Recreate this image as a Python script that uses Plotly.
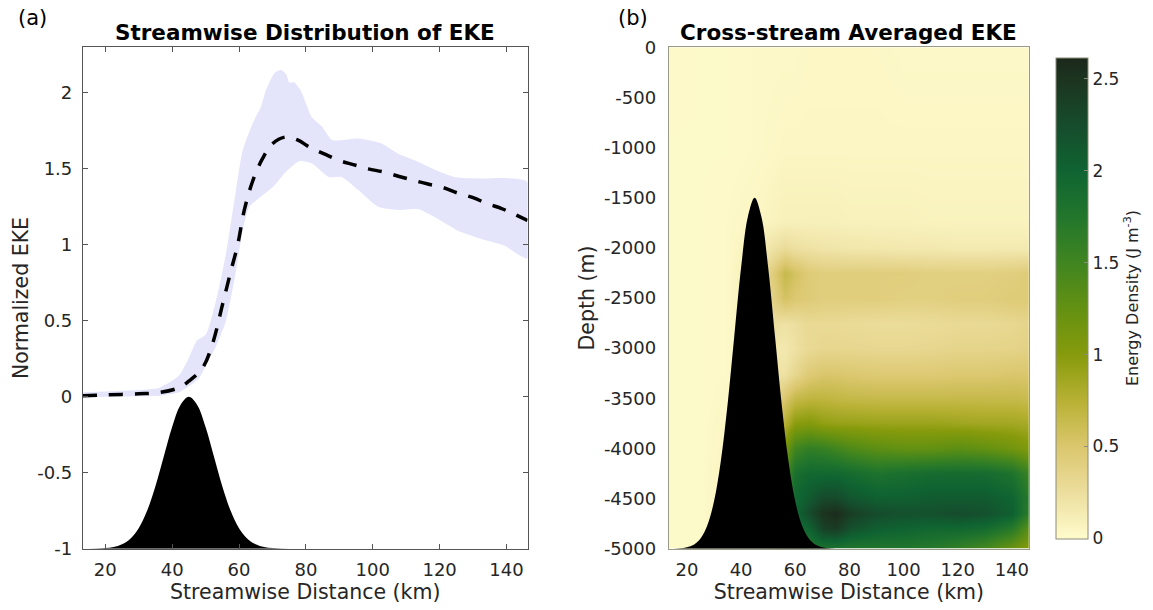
import plotly.graph_objects as go

# ---------------- data ----------------
# Panel (a): streamwise EKE (normalized), mean curve and spread envelope
eke_x = [13.3, 20, 30, 36.2, 42.1, 45.1, 49.1, 52.1, 55.1, 57.6, 59.6, 61.6, 64.1, 67.1,
         70.1, 74.0, 77.5, 81.3, 85.3, 89.7, 94.2, 98.7, 103.1, 107.9, 112.1, 116.5,
         121.0, 125.5, 130.0, 134.4, 138.4, 142.5, 146.3]
eke_mean = [0.007, 0.012, 0.02, 0.028, 0.06, 0.105, 0.19, 0.35, 0.61, 0.83, 1.0, 1.23, 1.42,
            1.57, 1.667, 1.71, 1.69, 1.64, 1.60, 1.557, 1.528, 1.50, 1.48, 1.45, 1.425, 1.40,
            1.377, 1.34, 1.31, 1.27, 1.24, 1.20, 1.16]

upper_x = [13.3, 20, 30, 36.2, 42.1, 45.1, 47.4, 50.1, 53.1, 56.1, 59.1, 61.1, 64.1, 66.6,
           68.1, 70.6, 72.6, 74.2, 75.0, 76.5, 78.0, 79.0, 81.8, 84.8, 87.8, 95.7, 102.6,
           107.6, 112.5, 119.5, 124.4, 132.3, 139.3, 146.3]
upper_y = [0.03, 0.035, 0.045, 0.06, 0.14, 0.26, 0.37, 0.41, 0.63, 0.94, 1.36, 1.62, 1.80, 1.91,
           2.02, 2.13, 2.15, 2.12, 2.07, 2.07, 2.03, 1.99, 1.84, 1.78, 1.69, 1.70, 1.667,
           1.60, 1.557, 1.486, 1.447, 1.436, 1.44, 1.414]

lower_x = [13.3, 20, 30, 36.2, 42.1, 45.1, 48.0, 50.0, 53.1, 56.1, 59.1, 61.1, 63.1, 66.1,
           70.1, 74.0, 78.0, 81.8, 86.8, 90.7, 95.7, 101.6, 107.6, 113.5, 119.5, 125.4,
           132.3, 139.3, 146.3]
lower_y = [-0.005, 0.0, 0.003, 0.007, 0.03, 0.07, 0.12, 0.20, 0.33, 0.50, 0.83, 1.095, 1.25,
           1.31, 1.38, 1.48, 1.55, 1.535, 1.447, 1.447, 1.36, 1.25, 1.23, 1.235, 1.17, 1.095,
           1.04, 0.996, 0.91]

# Seamount profile: relative height (0 = floor, 1 = summit) along the stream
topo_x = [15, 17.5, 20, 22.5, 25, 27.5, 30, 32.5, 35, 37.5, 40, 42.5, 45, 47.5, 50, 52.5,
          55, 57.5, 60, 62.5, 65, 67.5, 70, 72.5, 75]
topo_h = [0.0, 0.001, 0.004, 0.011, 0.029, 0.066, 0.135, 0.249, 0.411, 0.607, 0.801, 0.946,
          1.0, 0.946, 0.801, 0.607, 0.411, 0.249, 0.135, 0.066, 0.029, 0.011, 0.004, 0.001, 0.0]
floor_depth = -5000
summit_depth = -1500

# Panel (b): cross-stream averaged EKE (J m^-3) on a depth / distance grid
grid_x = [13.3, 25, 35, 45, 52, 56, 60, 65, 70, 75, 80, 90, 100, 110, 120, 130, 140, 146.3]
grid_z = [0, -1000, -1750, -2000, -2250, -2500, -2750, -3000, -3250, -3500, -3750, -4000,
          -4250, -4500, -4650, -4800, -5000]
energy = [
    [0.03, 0.02, 0.02, 0.03, 0.03, 0.03, 0.03, 0.04, 0.04, 0.04, 0.04, 0.04, 0.03, 0.03, 0.03, 0.03, 0.03, 0.03],
    [0.02, 0.02, 0.02, 0.03, 0.04, 0.05, 0.05, 0.05, 0.05, 0.05, 0.05, 0.05, 0.05, 0.05, 0.05, 0.05, 0.05, 0.05],
    [0.02, 0.02, 0.03, 0.05, 0.08, 0.10, 0.10, 0.10, 0.10, 0.10, 0.09, 0.09, 0.09, 0.08, 0.08, 0.08, 0.08, 0.08],
    [0.02, 0.02, 0.03, 0.10, 0.22, 0.28, 0.24, 0.22, 0.20, 0.19, 0.18, 0.17, 0.16, 0.16, 0.15, 0.15, 0.15, 0.15],
    [0.02, 0.02, 0.03, 0.15, 0.45, 0.65, 0.55, 0.45, 0.42, 0.42, 0.42, 0.42, 0.42, 0.40, 0.40, 0.40, 0.42, 0.45],
    [0.02, 0.02, 0.03, 0.15, 0.40, 0.55, 0.48, 0.45, 0.42, 0.42, 0.42, 0.42, 0.40, 0.40, 0.42, 0.42, 0.45, 0.45],
    [0.02, 0.02, 0.03, 0.12, 0.25, 0.22, 0.25, 0.30, 0.30, 0.30, 0.28, 0.27, 0.27, 0.28, 0.30, 0.30, 0.32, 0.35],
    [0.02, 0.02, 0.03, 0.10, 0.18, 0.16, 0.22, 0.30, 0.33, 0.33, 0.33, 0.32, 0.32, 0.33, 0.35, 0.35, 0.36, 0.38],
    [0.02, 0.02, 0.03, 0.10, 0.20, 0.22, 0.32, 0.45, 0.50, 0.50, 0.48, 0.46, 0.46, 0.46, 0.48, 0.48, 0.50, 0.50],
    [0.02, 0.02, 0.04, 0.15, 0.35, 0.50, 0.65, 0.70, 0.70, 0.68, 0.66, 0.65, 0.65, 0.65, 0.65, 0.65, 0.65, 0.63],
    [0.02, 0.02, 0.05, 0.20, 0.55, 0.75, 0.98, 1.02, 0.95, 0.92, 0.92, 0.90, 0.90, 0.90, 0.88, 0.86, 0.86, 0.83],
    [0.02, 0.02, 0.06, 0.30, 0.80, 1.10, 1.50, 1.62, 1.58, 1.50, 1.40, 1.30, 1.25, 1.25, 1.30, 1.25, 1.15, 1.05],
    [0.02, 0.02, 0.07, 0.35, 1.00, 1.40, 1.85, 1.95, 1.95, 1.95, 1.90, 1.80, 1.85, 1.90, 1.90, 1.90, 1.80, 1.55],
    [0.02, 0.02, 0.08, 0.40, 1.10, 1.60, 1.95, 2.10, 2.28, 2.28, 2.15, 2.05, 2.05, 2.10, 2.10, 2.10, 2.00, 1.70],
    [0.02, 0.02, 0.08, 0.40, 1.10, 1.60, 1.95, 2.25, 2.50, 2.58, 2.40, 2.25, 2.20, 2.20, 2.25, 2.20, 2.05, 1.65],
    [0.02, 0.02, 0.08, 0.40, 1.10, 1.55, 1.85, 2.00, 2.35, 2.42, 2.20, 2.05, 2.00, 1.95, 1.95, 1.90, 1.70, 1.30],
    [0.02, 0.02, 0.08, 0.35, 1.00, 1.40, 1.70, 1.75, 1.80, 1.80, 1.75, 1.75, 1.75, 1.70, 1.60, 1.45, 1.20, 1.00],
]
energy_max = 2.615

# Tick labels
x_ticks = [20, 40, 60, 80, 100, 120, 140]
x_ticktext = ["20", "40", "60", "80", "100", "120", "140"]
eke_ticks = [-1, -0.5, 0, 0.5, 1, 1.5, 2]
eke_ticktext = ["-1", "-0.5", "0", "0.5", "1", "1.5", "2"]
depth_ticks = [0, -500, -1000, -1500, -2000, -2500, -3000, -3500, -4000, -4500, -5000]
depth_ticktext = ["0", "-500", "-1000", "-1500", "-2000", "-2500", "-3000", "-3500",
                  "-4000", "-4500", "-5000"]
cbar_ticks = [0, 0.5, 1, 1.5, 2, 2.5]
cbar_ticktext = ["0", "0.5", "1", "1.5", "2", "2.5"]

# ---------------- styling ----------------
W, H = 1153, 610
FONT = "DejaVu Sans"
TXT = "#262626"
TICK_SIZE = 18
LABEL_SIZE = 20.5
TITLE_SIZE = 21.5
x_range = [13.3, 146.3]

# speed-like yellow -> olive -> green colormap
speed_scale = [
    [0.000, "rgb(255,252,205)"],
    [0.096, "rgb(236,222,158)"],
    [0.191, "rgb(219,199,110)"],
    [0.287, "rgb(184,177,52)"],
    [0.382, "rgb(135,155,12)"],
    [0.478, "rgb(100,145,18)"],
    [0.574, "rgb(64,133,32)"],
    [0.669, "rgb(34,118,44)"],
    [0.765, "rgb(15,100,50)"],
    [0.860, "rgb(22,76,44)"],
    [0.956, "rgb(28,52,32)"],
    [1.000, "rgb(27,40,27)"],
]

def px_x(p):
    return p / W

def px_y(p):
    return 1 - p / H

left_dom = [px_x(83.3), px_x(530.3)]
right_dom = [px_x(672.3), px_x(1034.3)]
y_dom = [px_y(548.7), px_y(47.3)]

fig = go.Figure()

# ---- panel (a) ----
band_x = upper_x + lower_x[::-1]
band_y = upper_y + lower_y[::-1]
fig.add_trace(go.Scatter(x=band_x, y=band_y, fill="toself", mode="lines",
                         line=dict(width=0, shape="spline", smoothing=0.6),
                         fillcolor="rgb(228,228,251)", hoverinfo="skip",
                         xaxis="x", yaxis="y", showlegend=False))
fig.add_trace(go.Scatter(x=eke_x, y=eke_mean, mode="lines",
                         line=dict(color="black", width=3.5, dash="14px,12px", shape="spline"),
                         xaxis="x", yaxis="y", showlegend=False))
topo_a = [h - 1 for h in topo_h]
fig.add_trace(go.Scatter(x=topo_x, y=topo_a, mode="lines", fill="toself",
                         line=dict(color="black", width=0, shape="spline"),
                         fillcolor="black", xaxis="x", yaxis="y", showlegend=False))

# ---- panel (b) ----
fig.add_trace(go.Heatmap(x=grid_x, y=grid_z, z=energy, zmin=0, zmax=energy_max,
                         colorscale=speed_scale, zsmooth="best",
                         xaxis="x2", yaxis="y2",
                         colorbar=dict(
                             x=px_x(1051.7), xanchor="left", xref="paper",
                             y=(y_dom[0] + y_dom[1]) / 2, yanchor="middle",
                             len=y_dom[1] - y_dom[0], lenmode="fraction",
                             thickness=31.6, thicknessmode="pixels",
                             outlinewidth=1, outlinecolor="#8c8c7a",
                             tickvals=cbar_ticks, ticktext=cbar_ticktext,
                             ticks="inside", ticklen=4, tickcolor="#8c8c7a",
                             tickfont=dict(family=FONT, size=17, color=TXT),
                             ticklabelposition="outside",
                             title=dict(text="Energy Density (J m<sup>-3</sup>)", side="right",
                                        font=dict(family=FONT, size=16, color=TXT)),
                         )))
topo_b = [floor_depth + (summit_depth - floor_depth) * h for h in topo_h]
fig.add_trace(go.Scatter(x=topo_x, y=topo_b, mode="lines", fill="toself",
                         line=dict(color="black", width=0, shape="spline"),
                         fillcolor="black", xaxis="x2", yaxis="y2", showlegend=False))

axis_common = dict(showgrid=False, zeroline=False, showline=True, linewidth=1,
                   tickfont=dict(family=FONT, size=TICK_SIZE, color=TXT))

fig.update_layout(
    width=W, height=H,
    margin=dict(l=0, r=0, t=0, b=0),
    paper_bgcolor="white", plot_bgcolor="white",
    font=dict(family=FONT, color=TXT),
    xaxis=dict(domain=left_dom, range=x_range, anchor="y", tickvals=x_ticks,
               ticktext=x_ticktext, ticks="inside", ticklen=5, tickcolor="#555",
               linecolor="#555", mirror="ticks", ticklabelstandoff=5,
               title=dict(text="Streamwise Distance (km)", standoff=5,
                          font=dict(family=FONT, size=LABEL_SIZE, color=TXT)),
               automargin=False, **axis_common),
    yaxis=dict(domain=y_dom, range=[-1, 2.3], anchor="x", tickvals=eke_ticks,
               ticktext=eke_ticktext, ticks="inside", ticklen=5, tickcolor="#555",
               linecolor="#555", mirror="ticks", ticklabelstandoff=6,
               title=dict(text="Normalized EKE", standoff=2,
                          font=dict(family=FONT, size=LABEL_SIZE, color=TXT)),
               automargin=False, **axis_common),
    xaxis2=dict(domain=right_dom, range=x_range, anchor="y2", tickvals=x_ticks,
                ticktext=x_ticktext, ticks="", linecolor="#9a9a88", mirror=True,
                ticklabelstandoff=5,
                title=dict(text="Streamwise Distance (km)", standoff=5,
                           font=dict(family=FONT, size=LABEL_SIZE, color=TXT)),
                automargin=False, **axis_common),
    yaxis2=dict(domain=y_dom, range=[-5000, 0], anchor="x2", tickvals=depth_ticks,
                ticktext=depth_ticktext, ticks="", linecolor="#9a9a88", mirror=True,
                ticklabelstandoff=8,
                title=dict(text="Depth (m)", standoff=3,
                           font=dict(family=FONT, size=LABEL_SIZE, color=TXT)),
                automargin=False, **axis_common),
    annotations=[
        dict(text="<b>Streamwise Distribution of EKE</b>", x=(left_dom[0] + left_dom[1]) / 2,
             y=px_y(33), xref="paper", yref="paper", showarrow=False,
             xanchor="center", yanchor="middle",
             font=dict(family=FONT, size=TITLE_SIZE, color="black")),
        dict(text="<b>Cross-stream Averaged EKE</b>", x=(right_dom[0] + right_dom[1]) / 2,
             y=px_y(33), xref="paper", yref="paper", showarrow=False,
             xanchor="center", yanchor="middle",
             font=dict(family=FONT, size=TITLE_SIZE, color="black")),
        dict(text="(a)", x=px_x(16), y=px_y(18), xref="paper", yref="paper", showarrow=False,
             xanchor="left", yanchor="middle", font=dict(family=FONT, size=21, color="black")),
        dict(text="(b)", x=px_x(619), y=px_y(18), xref="paper", yref="paper", showarrow=False,
             xanchor="left", yanchor="middle", font=dict(family=FONT, size=21, color="black")),
    ],
)

fig.write_html("out.html")
